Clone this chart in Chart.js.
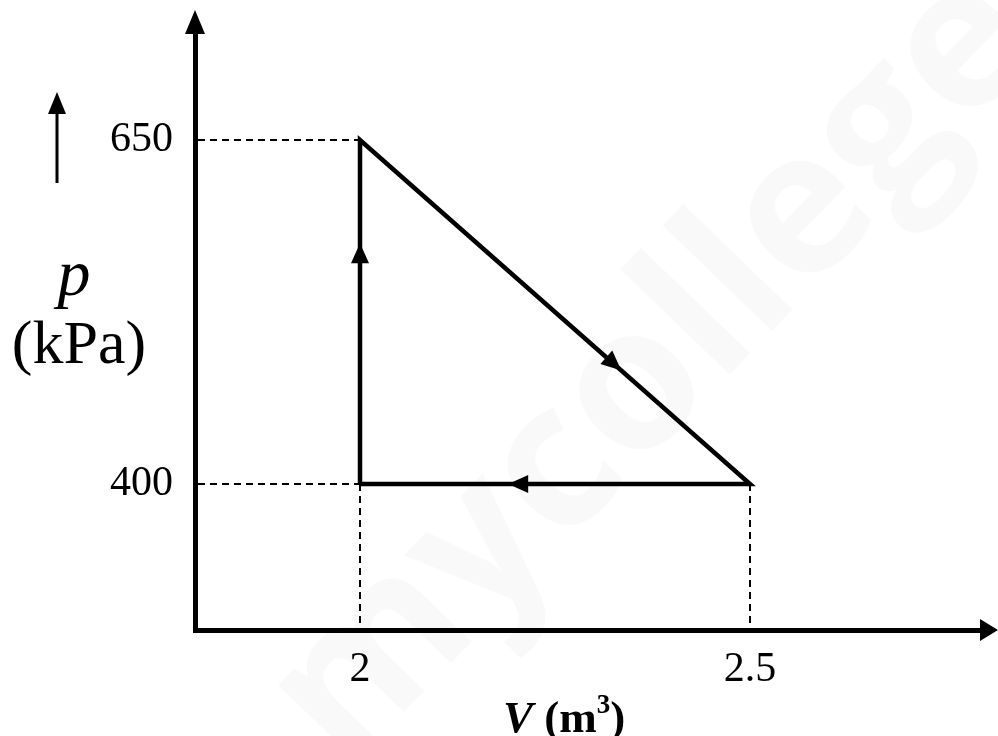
<!DOCTYPE html>
<html>
<head>
<meta charset="utf-8">
<script src="https://cdn.jsdelivr.net/npm/chart.js@4/dist/chart.umd.min.js"></script>
<style>
  html, body { margin: 0; padding: 0; background: #fff; }
  #wrap { width: 998px; height: 736px; }
</style>
</head>
<body>
<div id="wrap"><canvas id="c" width="998" height="736"></canvas></div>
<script>
// ---- data ----
const cycleVolumes   = [2, 2, 2.5, 2];        // V (m^3), path of the cycle
const cyclePressures = [400, 650, 400, 400];  // p (kPa)
const xTickValues = [2, 2.5];
const yTickValues = [400, 650];
const xTickLabels = ['2', '2.5'];
const yTickLabels = ['400', '650'];
const guidePoints = [ {x: 2, y: 650}, {x: 2, y: 400}, {x: 2.5, y: 400} ];
const arrowFractions = [0.70, 0.67, 0.62];    // where the direction arrows sit on each leg

const points = cycleVolumes.map((v, i) => ({ x: v, y: cyclePressures[i] }));

function head(ctx, tipX, tipY, dx, dy, len, half) {
  const n = Math.hypot(dx, dy); const ux = dx / n, uy = dy / n;
  const bx = tipX - ux * len, by = tipY - uy * len;
  ctx.beginPath();
  ctx.moveTo(tipX, tipY);
  ctx.lineTo(bx - uy * half, by + ux * half);
  ctx.lineTo(bx + uy * half, by - ux * half);
  ctx.closePath();
  ctx.fill();
}

const decor = {
  id: 'decor',
  beforeDraw(chart) {
    const ctx = chart.ctx;
    ctx.save();
    ctx.translate(655, 370);
    ctx.rotate(-46 * Math.PI / 180);
    ctx.fillStyle = 'rgba(0,0,0,0.022)';
    ctx.font = 'bold 200px "Open Sans"';
    ctx.textAlign = 'center';
    ctx.textBaseline = 'middle';
    ctx.fillText('mycollege', 0, 0);
    ctx.restore();
  },
  beforeDatasetsDraw(chart) {
    const ctx = chart.ctx, xs = chart.scales.x, ys = chart.scales.y, ca = chart.chartArea;
    ctx.save();
    ctx.strokeStyle = '#000';
    ctx.lineWidth = 2;
    ctx.setLineDash([7, 5]);
    [guidePoints[0], guidePoints[1]].forEach(p => {
      const py = ys.getPixelForValue(p.y);
      ctx.beginPath(); ctx.moveTo(ca.left + 3, py); ctx.lineTo(xs.getPixelForValue(p.x), py); ctx.stroke();
    });
    [guidePoints[1], guidePoints[2]].forEach(p => {
      const px = xs.getPixelForValue(p.x);
      ctx.beginPath(); ctx.moveTo(px, ys.getPixelForValue(p.y)); ctx.lineTo(px, ca.bottom - 3); ctx.stroke();
    });
    ctx.restore();
  },
  afterDatasetsDraw(chart) {
    const ctx = chart.ctx, xs = chart.scales.x, ys = chart.scales.y, ca = chart.chartArea;
    ctx.save();
    ctx.fillStyle = '#000';
    ctx.strokeStyle = '#000';
    for (let i = 0; i < points.length - 1; i++) {
      const x0 = xs.getPixelForValue(points[i].x), y0 = ys.getPixelForValue(points[i].y);
      const x1 = xs.getPixelForValue(points[i + 1].x), y1 = ys.getPixelForValue(points[i + 1].y);
      const f = arrowFractions[i];
      head(ctx, x0 + (x1 - x0) * f, y0 + (y1 - y0) * f, x1 - x0, y1 - y0, 20, 9);
    }
    const yAxisX = ca.left;
    ctx.fillRect(yAxisX - 2.5, 28, 5, ca.top - 26);
    head(ctx, yAxisX, 10, 0, -1, 24, 10);
    ctx.fillRect(ca.right - 4, ca.bottom - 2.5, 8, 5);
    head(ctx, 998, ca.bottom, 1, 0, 18, 11);
    ctx.lineWidth = 3;
    ctx.beginPath(); ctx.moveTo(57, 183); ctx.lineTo(57, 108); ctx.stroke();
    head(ctx, 57, 92, 0, -1, 22, 9);
    ctx.restore();
  },
  afterDraw(chart) {
    const ctx = chart.ctx;
    ctx.save();
    ctx.fillStyle = '#000';
    ctx.textBaseline = 'alphabetic';
    ctx.textAlign = 'center';
    ctx.font = 'italic 66px "Liberation Serif"';
    ctx.fillText('p', 74, 295);
    ctx.font = '62px "Liberation Serif"';
    ctx.fillText('(kPa)', 79, 363);
    ctx.textAlign = 'left';
    const base = 732;
    let x = 503;
    ctx.font = 'italic bold 45px "Liberation Serif"';
    ctx.fillText('V', x, base); x += ctx.measureText('V').width;
    ctx.font = 'bold 45px "Liberation Serif"';
    ctx.fillText(' (m', x, base); x += ctx.measureText(' (m').width;
    ctx.font = 'bold 27px "Liberation Serif"';
    ctx.fillText('3', x, base - 19); x += ctx.measureText('3').width;
    ctx.font = 'bold 45px "Liberation Serif"';
    ctx.fillText(')', x, base);
    ctx.restore();
  }
};

new Chart(document.getElementById('c'), {
  type: 'scatter',
  data: {
    datasets: [{
      data: points,
      showLine: true,
      borderColor: '#000',
      backgroundColor: '#000',
      borderWidth: 4.5,
      borderJoinStyle: 'miter',
      pointRadius: 0,
      tension: 0,
      fill: false
    }]
  },
  options: {
    responsive: false,
    devicePixelRatio: 1,
    animation: false,
    layout: { padding: { left: 0, right: 14, top: 30, bottom: 0 } },
    plugins: { legend: { display: false }, tooltip: { enabled: false }, title: { display: false } },
    scales: {
      x: {
        type: 'linear',
        min: 1.78846,
        max: 2.8,
        grid: { display: false, drawTicks: false },
        border: { display: true, color: '#000', width: 5 },
        ticks: {
          color: '#000',
          font: { family: 'Liberation Serif', size: 42 },
          padding: 15,
          autoSkip: false,
          maxRotation: 0,
          callback: (v) => { const i = xTickValues.indexOf(v); return i >= 0 ? xTickLabels[i] : ''; }
        },
        afterBuildTicks: (s) => { s.ticks = xTickValues.map(v => ({ value: v })); },
        afterFit: (s) => { s.height = 106; s.paddingLeft = 0; s.paddingRight = 0; }
      },
      y: {
        type: 'linear',
        min: 293.9,
        max: 729.9,
        grid: { display: false, drawTicks: false },
        border: { display: true, color: '#000', width: 5 },
        ticks: {
          color: '#000',
          font: { family: 'Liberation Serif', size: 42 },
          padding: 22,
          autoSkip: false,
          callback: (v) => { const i = yTickValues.indexOf(v); return i >= 0 ? yTickLabels[i] : ''; }
        },
        afterBuildTicks: (s) => { s.ticks = yTickValues.map(v => ({ value: v })); },
        afterFit: (s) => { s.width = 195; s.paddingTop = 0; s.paddingBottom = 0; }
      }
    }
  },
  plugins: [decor]
});
</script>
</body>
</html>
